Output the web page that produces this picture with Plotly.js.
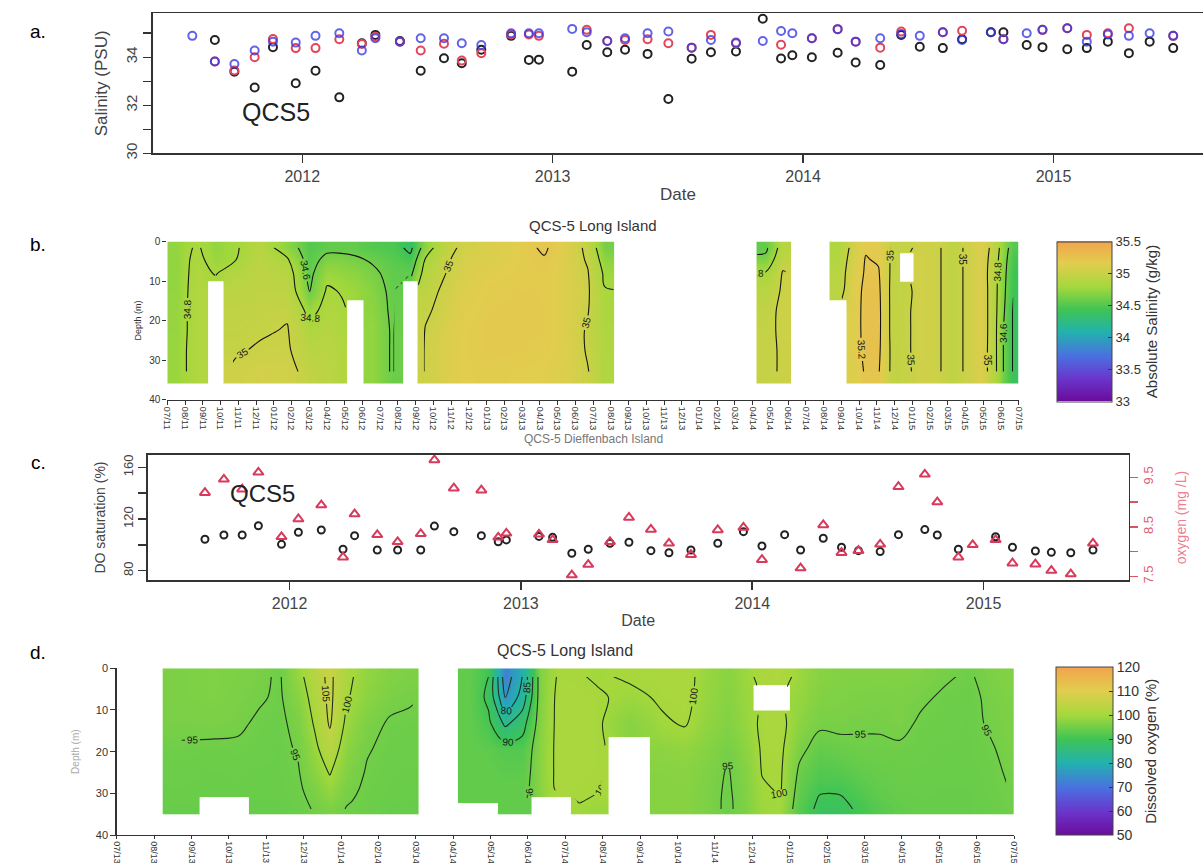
<!DOCTYPE html>
<html><head><meta charset="utf-8">
<script src="https://cdn.plot.ly/plotly-3.0.1.min.js"></script>
<style>html,body{margin:0;padding:0;background:#fff}#chart{width:1203px;height:863px}</style>
</head><body><div id="chart"></div>
<script>
// ---------- Panel a : salinity at QCS5 (decimal years) ----------
const salDates = [2011.561,2011.651,2011.729,2011.81,2011.883,2011.974,2012.053,2012.148,2012.238,2012.292,2012.39,2012.473,2012.566,2012.637,2012.715,2012.834,2012.905,2012.945,2013.078,2013.136,2013.218,2013.289,2013.379,2013.462,2013.555,2013.632,2013.732,2013.839,2013.912,2013.957,2014.035,2014.138,2014.21,2014.308,2014.392,2014.466,2014.558,2014.635,2014.75,2014.8,2014.893,2014.956,2015.055,2015.133,2015.217,2015.301,2015.384,2015.478];
const salBlack = [null,34.72,33.40,32.74,34.42,32.92,33.44,32.33,34.58,34.93,34.68,33.44,33.96,33.75,34.31,34.89,33.89,33.90,33.40,34.51,34.21,34.31,34.14,32.26,33.94,34.21,34.24,35.60,33.95,34.08,34.00,34.19,33.78,33.68,34.93,34.44,34.38,34.75,35.04,35.04,34.51,34.42,34.33,34.38,34.65,34.17,34.65,34.38];
const salRed = [null,33.82,33.45,34.00,34.76,34.38,34.38,34.75,34.55,34.85,34.65,34.28,34.56,33.86,34.17,34.95,34.95,34.89,null,35.14,34.68,34.72,34.75,34.58,34.40,34.93,34.58,null,34.52,null,34.79,35.17,34.65,34.40,35.07,null,35.04,35.10,null,34.75,null,35.14,35.21,34.93,35.00,35.21,null,34.89];
const salBlue = [34.89,33.82,33.72,34.28,34.65,34.61,34.89,35.00,34.28,34.79,34.65,34.79,34.79,34.58,34.51,35.00,35.00,35.00,35.18,35.04,34.68,34.79,35.00,35.07,34.40,34.72,34.61,34.68,35.09,35.00,34.79,35.17,34.65,34.79,34.97,34.89,35.04,34.72,35.04,34.75,35.00,35.14,35.21,34.65,34.95,34.89,35.00,34.89];
const yearTicks = [2012,2013,2014,2015];

// ---------- Panel c : DO saturation and oxygen ----------
const doDates = [2011.634,2011.716,2011.795,2011.865,2011.965,2012.038,2012.137,2012.231,2012.281,2012.379,2012.467,2012.567,2012.626,2012.71,2012.829,2012.902,2012.937,2013.078,2013.137,2013.22,2013.291,2013.385,2013.467,2013.562,2013.64,2013.735,2013.851,2013.962,2014.042,2014.14,2014.209,2014.307,2014.386,2014.459,2014.553,2014.632,2014.746,2014.8,2014.891,2014.953,2015.052,2015.125,2015.224,2015.293,2015.377,2015.473];
const doSat = [104.3,107.6,107.6,114.8,100.4,109.7,111.5,96.6,107.1,96.0,96.0,96.0,114.5,110.2,107.1,102.4,103.8,106.5,105.8,93.5,96.6,101.2,102.0,95.5,93.9,96.0,101.2,110.2,99.1,107.9,96.0,105.1,98.1,95.5,94.8,107.9,111.8,107.6,96.6,null,106.3,98.1,95.2,94.2,93.9,96.0];
const doMgL = [9.19,9.46,9.26,9.60,8.30,8.66,8.94,7.89,8.76,8.34,8.20,8.36,9.85,9.28,9.24,8.29,8.37,8.35,8.24,7.53,7.74,8.20,8.69,8.45,8.17,7.94,8.44,8.49,7.84,null,7.67,8.54,7.98,8.02,8.15,9.31,9.56,9.00,7.89,8.14,8.24,7.77,7.75,7.62,7.55,8.17];

// ---------- Panel b : absolute salinity section (month index 0 = 07/11) ----------
const salMonthLabels = ['07/11','08/11','09/11','10/11','11/11','12/11','01/12','02/12','03/12','04/12','05/12','06/12','07/12','08/12','09/12','10/12','11/12','12/12','01/13','02/13','03/13','04/13','05/13','06/13','07/13','08/13','09/13','10/13','11/13','12/13','01/14','02/14','03/14','04/14','05/14','06/14','07/14','08/14','09/14','10/14','11/14','12/14','01/15','02/15','03/15','04/15','05/15','06/15','07/15'];
const salEdgesX = [0,1,2.32,3.13,4.5,6,7.5,8.5,9.5,10.17,11.07,12.1,13.28,14.1,15,16,17.5,19,20.5,22,23.2,24.2,25.2,33.2,34.2,35.2,37.3,38.3,39.0,39.75,40.4,41.3,42.06,42.9,43.9,44.6,45.5,46.2,46.9,47.4,48.0];
const salDepthEdges = [0,3,6,10,15,20,25,30,36];
const N8 = [null,null,null,null,null,null,null,null];
const salGrid = [
 [34.72,34.72,34.72,34.72,34.73,34.73,34.74,34.74],
 [34.82,34.84,34.85,34.86,34.86,34.86,34.86,34.86],
 [34.72,34.74,34.79,null,null,null,null,null],
 [34.78,34.79,34.88,34.92,34.94,34.96,34.98,35.03],
 [34.9,34.92,34.93,34.94,34.96,34.98,35.02,35.06],
 [34.7,34.82,34.9,34.94,34.98,35.01,35.02,35.05],
 [34.5,34.52,34.55,34.58,34.75,34.85,34.9,34.95],
 [34.55,34.65,34.75,34.82,34.85,34.88,34.9,34.92],
 [34.55,34.65,34.72,34.79,34.82,34.84,34.86,34.86],
 [34.55,34.62,34.7,34.75,null,null,null,null],
 [34.5,34.58,34.63,34.68,34.7,34.72,34.72,34.72],
 [34.48,34.52,34.55,34.56,34.57,34.58,34.58,34.58],
 [34.35,34.45,34.55,null,null,null,null,null],
 [34.7,34.81,34.88,34.93,34.97,35.01,35.02,35.02],
 [34.9,34.95,34.98,35.02,35.05,35.08,35.1,35.1],
 [35.05,35.08,35.1,35.12,35.14,35.15,35.15,35.15],
 [35.1,35.12,35.14,35.16,35.17,35.18,35.18,35.16],
 [35.15,35.15,35.16,35.17,35.18,35.18,35.17,35.15],
 [35.22,35.19,35.17,35.17,35.17,35.17,35.16,35.14],
 [35.1,35.1,35.1,35.1,35.1,35.1,35.12,35.1],
 [34.96,34.98,35.01,35.02,35.01,34.98,34.98,35.01],
 [34.62,34.7,34.76,34.81,34.82,34.84,34.85,34.85],
 N8,
 [34.55,34.65,34.81,34.9,34.95,34.97,34.98,34.98],
 [34.9,34.95,35.01,35.02,35.03,35.02,35.01,35.01],
 N8,
 [34.85,34.87,34.9,34.92,null,null,null,null],
 [35.05,35.08,35.1,35.12,35.12,35.12,35.12,35.1],
 [35.18,35.21,35.22,35.24,35.25,35.25,35.24,35.22],
 [35.15,35.18,35.22,35.24,35.25,35.25,35.24,35.22],
 [34.98,34.97,34.96,34.95,34.95,34.95,34.96,34.96],
 [34.97,null,null,34.97,34.98,34.98,34.98,34.98],
 [35.04,35.05,35.05,35.05,35.05,35.05,35.05,35.04],
 [35.02,35.02,35.02,35.02,35.02,35.02,35.02,35.02],
 [34.94,34.94,34.94,34.94,34.94,34.94,34.94,34.94],
 [35.02,35.02,35.02,35.02,35.02,35.02,35.02,35.02],
 [35.12,35.12,35.12,35.13,35.13,35.13,35.12,35.12],
 [34.95,34.92,34.9,34.9,34.9,34.9,34.9,34.9],
 [34.7,34.68,34.66,34.64,34.62,34.59,34.59,34.59],
 [34.5,34.45,34.42,34.41,34.38,34.38,34.38,34.38]
];

// ---------- Panel d : dissolved oxygen section (month index 0 = 07/13) ----------
const doMonthLabels = ['07/13','08/13','09/13','10/13','11/13','12/13','01/14','02/14','03/14','04/14','05/14','06/14','07/14','08/14','09/14','10/14','11/14','12/14','01/15','02/15','03/15','04/15','05/15','06/15','07/15'];
const doEdgesX = [1.23,2.23,3.0,3.52,4.1,4.6,5.1,5.5,5.9,6.4,7.0,7.6,8.09,9.12,9.7,10.19,10.6,11.09,11.5,12.14,12.6,13.15,14.26,14.9,15.5,16.1,16.6,17.03,17.5,18.01,18.5,19.1,19.6,20.1,20.7,21.2,21.8,22.45,23.1,23.6,24];
const doDepthEdges = [0,4,10,16.5,22,27,31,32.5,35];
const doGrid = [
 [96.0,96.0,95.6,94.7,94.3,94.2,94.1,94.0],
 [96.2,96.2,95.8,94.5,94.2,94.1,null,null],
 [96.0,95.8,95.4,94.6,94.3,94.2,null,null],
 [95.6,95.3,94.6,94.3,94.2,94.1,94.0,94.0],
 [94.6,94.6,94.3,94.2,94.2,94.1,94.0,94.0],
 [98.5,97.0,96.0,95.3,94.8,94.6,94.4,94.3],
 [103,102,100.5,99,97.5,96.0,95.5,95.2],
 [106,106,105.5,103,100.5,98.5,97.0,96.0],
 [101,100.4,99.0,97.5,96.5,95.6,95.2,94.9],
 [98.0,97.5,96.0,95.2,94.8,94.6,94.5,94.5],
 [96.5,95.8,94.7,94.4,94.3,94.2,94.1,94.0],
 [96.0,95.3,94.5,94.3,94.2,94.1,94.0,94.0],
 N8,
 [93.5,93.5,93.5,93.5,93.5,93.5,93.5,null],
 [90,89,91,93,93.5,93.5,93.5,null],
 [72,75,84,92,93,93.5,93.5,93.5],
 [80,82,88,92,93,93.5,93.5,93.5],
 [96,96,96.5,97,97,97,null,null],
 [100.5,101,101,101,101,100.8,null,null],
 [100.3,101,101,101,101,100.5,100.2,99.5],
 [99.5,100.5,100.5,100.5,100.5,100.2,99.5,99],
 [100.5,99,97,null,null,null,null,null],
 [101,100.5,99.5,97.5,97,96.8,96.8,96.8],
 [101.2,101,100.3,98,97.2,97,97,97],
 [98.5,98.3,97.8,96.8,96.2,96,96,96],
 [97.2,97,96.5,95.5,94.8,94.6,94.5,94.5],
 [99,98.8,98.5,97.5,96.8,96.5,96.3,96.2],
 [101,null,100.6,100.4,100.2,99.6,99.4,99.2],
 [101.5,null,101.2,100.8,100.5,100.3,99.8,99.6],
 [99,98.5,97.5,96,94.5,93.5,93,92.5],
 [97,96.5,95.6,93.5,92,90.5,89.5,89],
 [96.5,96.2,95.6,94.2,92.5,90.5,89.5,89],
 [96.5,96,95.3,94.6,93.5,92,91,90.5],
 [96.5,95.8,95.3,94.6,94,93.5,93,92.5],
 [96.5,96,95.8,94.6,94.2,94,93.8,93.5],
 [96.2,95.5,94.6,94.3,94.2,94.1,94,94],
 [95.4,94.6,94.3,94.2,94.1,94,94,94],
 [94.6,94.3,94.2,94.2,94.1,94,94,94],
 [96,95.5,95.3,94.7,94.4,94.3,94.2,94.2],
 [96.5,96.1,95.8,95.6,95.2,94.9,94.8,94.7]
];

// ---------- helpers ----------
const W = 1203, H = 863;
const fx = v => v / W;
const fy = v => 1 - v / H;
const F = 'Liberation Sans, Arial, sans-serif';
const rows = cols => cols[0].map((_, j) => cols.map(c => c[j]));
const mids = e => e.slice(0, -1).map((v, i) => (v + e[i + 1]) / 2);
const maskOf = z => z.map(r => r.map(v => (v === null ? 1 : null)));
const copy2 = z => z.map(r => r.slice());
const idx = n => Array.from({length: n}, (_, i) => i);

const cscale = [[0,'#6b0c9c'],[0.14,'#6a36cc'],[0.28,'#4a70e0'],[0.43,'#22b2ae'],[0.57,'#3ec455'],[0.71,'#a3d83c'],[0.86,'#e2cd4e'],[1,'#f2a34c']];
const white = [[0,'#ffffff'],[1,'#ffffff']];

function section(edgesX, edgesY, cols, xa, ya, zmin, zmax, cb, lv, lineColor) {
  const z = rows(cols);
  return [
    {type:'heatmap', x: edgesX, y: edgesY, z: z, zsmooth:'best', colorscale: cscale, zmin: zmin, zmax: zmax,
     xaxis: xa, yaxis: ya, hoverinfo:'skip', colorbar: cb},
    {type:'contour', x: mids(edgesX), y: mids(edgesY), z: copy2(z), autocontour:false,
     contours:{coloring:'none', start: lv[0], end: lv[1], size: lv[2], showlabels:true,
               labelfont:{family:F, size:10, color:'#1a1a1a'}},
     line:{color: lineColor, width:1.1, smoothing:1}, showscale:false, xaxis: xa, yaxis: ya, hoverinfo:'skip'},
    {type:'heatmap', x: edgesX, y: edgesY, z: maskOf(z), zsmooth:false, colorscale: white, showscale:false,
     xaxis: xa, yaxis: ya, hoverinfo:'skip'}
  ];
}

const cbCommon = {xanchor:'left', yanchor:'top', lenmode:'pixels', thicknessmode:'pixels', xpad:0, ypad:0,
  outlinewidth:1, outlinecolor:'#444', ticks:'inside', ticklen:4, tickcolor:'#333'};

const traces = [].concat(
  section(salEdgesX, salDepthEdges, salGrid, 'x2', 'y2', 33, 35.5,
    Object.assign({}, cbCommon, {x: fx(1057), y: fy(241.5), len:160, thickness:55,
      tickvals:[33,33.5,34,34.5,35,35.5], tickfont:{family:F, size:13, color:'#333'},
      title:{text:'Absolute Salinity (g/kg)', side:'right', font:{family:F, size:15, color:'#333'}}}),
    [34.4, 35.2, 0.2], '#151515'),
  section(doEdgesX, doDepthEdges, doGrid, 'x4', 'y5', 50, 120,
    Object.assign({}, cbCommon, {x: fx(1056), y: fy(667.3), len:167.7, thickness:57,
      tickvals:[50,60,70,80,90,100,110,120], tickfont:{family:F, size:14, color:'#333'},
      title:{text:'Dissolved oxygen (%)', side:'right', font:{family:F, size:15, color:'#333'}}}),
    [70, 105, 5], '#1d321d'),
  [
    {type:'scatter', mode:'markers', x: salDates, y: salBlack, xaxis:'x', yaxis:'y', name:'black',
     marker:{symbol:'circle-open', size:8, color:'#222222', line:{width:2}}},
    {type:'scatter', mode:'markers', x: salDates, y: salRed, xaxis:'x', yaxis:'y', name:'red',
     marker:{symbol:'circle-open', size:8, color:'#e2465a', line:{width:2}}},
    {type:'scatter', mode:'markers', x: salDates, y: salBlue, xaxis:'x', yaxis:'y', name:'blue',
     marker:{symbol:'circle-open', size:8, color:'rgba(55,55,225,0.78)', line:{width:2}}},
    {type:'scatter', mode:'markers', x: doDates, y: doSat, xaxis:'x3', yaxis:'y3', name:'DO %',
     marker:{symbol:'circle-open', size:7, color:'#222222', line:{width:2}}},
    {type:'scatter', mode:'markers', x: doDates, y: doMgL, xaxis:'x3', yaxis:'y4', name:'O2 mg/L',
     marker:{symbol:'triangle-up-open', size:9, color:'#d83a5c', line:{width:2}}}
  ]
);

const base = {showgrid:false, zeroline:false, linecolor:'#333', tickcolor:'#333', fixedrange:true};

function note(text, x, y, size, color) {
  return {text: text, x: fx(x), y: fy(y), xref:'paper', yref:'paper', xanchor:'center', yanchor:'middle',
          showarrow:false, font:{family:F, size: size, color: color}};
}

const layout = {
  width: W, height: H, margin:{l:0, r:0, t:0, b:0}, showlegend:false,
  paper_bgcolor:'#ffffff', plot_bgcolor:'rgba(0,0,0,0)',
  font:{family:F, color:'#333'},
  // panel a
  xaxis: Object.assign({}, base, {domain:[fx(153), 1], range:[2011.404, 2015.597], anchor:'y',
    tickvals: yearTicks, ticks:'outside', ticklen:8, tickwidth:1.5, showline:true, linewidth:1.8, mirror:true,
    tickfont:{family:F, size:16, color:'#444'}, title:{text:'Date', font:{family:F, size:17, color:'#444'}, standoff:4}}),
  yaxis: Object.assign({}, base, {domain:[fy(153.3), fy(13.3)], range:[30, 35.83], anchor:'x',
    tickvals:[30,31,32,33,34,35], ticktext:['30','','32','','34',''], tickangle:-90,
    ticks:'outside', ticklen:8, tickwidth:1.5, showline:true, linewidth:1.8, mirror:true,
    tickfont:{family:F, size:15, color:'#444'}, title:{text:'Salinity (PSU)', font:{family:F, size:17, color:'#444'}, standoff:11}}),
  // panel b
  xaxis2: Object.assign({}, base, {domain:[fx(167.3), fx(1018.8)], range:[0, 48], anchor:'y2',
    tickvals: idx(salMonthLabels.length), ticktext: salMonthLabels, tickangle:90, ticks:'outside', ticklen:4,
    showline:true, linewidth:1.2, tickfont:{family:F, size:9.5, color:'#333'}}),
  yaxis2: Object.assign({}, base, {domain:[fy(399.5), fy(241.5)], range:[40, 0], anchor:'x2',
    tickvals:[0,10,20,30,40], ticks:'outside', ticklen:4, showline:false,
    tickfont:{family:F, size:10, color:'#333'}, title:{text:'Depth (m)', font:{family:F, size:9, color:'#333'}, standoff:6}}),
  // panel c
  xaxis3: Object.assign({}, base, {domain:[fx(147.8), fx(1128.6)], range:[2011.387, 2015.627], anchor:'y3',
    tickvals: yearTicks, ticks:'outside', ticklen:8, tickwidth:1.5, showline:true, linewidth:1.8, mirror:true,
    tickfont:{family:F, size:16, color:'#444'}, title:{text:'Date', font:{family:F, size:16, color:'#444'}, standoff:4}}),
  yaxis3: Object.assign({}, base, {domain:[fy(580), fy(455)], range:[72.8, 169.5], anchor:'x3',
    tickvals:[80,100,120,140,160], ticktext:['80','','120','','160'], tickangle:-90,
    ticks:'outside', ticklen:8, tickwidth:1.5, showline:true, linewidth:1.8, mirror:true,
    tickfont:{family:F, size:13, color:'#444'}, title:{text:'DO saturation (%)', font:{family:F, size:14, color:'#444'}, standoff:12}}),
  yaxis4: Object.assign({}, base, {overlaying:'y3', side:'right', anchor:'x3', range:[7.43, 9.95],
    tickvals:[7.5,8,8.5,9,9.5], ticktext:['7.5','','8.5','','9.5'], tickangle:-90,
    ticks:'outside', ticklen:8, tickwidth:1.5, tickcolor:'#d9536b', showline:false,
    tickfont:{family:F, size:13, color:'#e0607a'}, title:{text:'oxygen (mg /L)', font:{family:F, size:14, color:'#ec7f92'}, standoff:20}}),
  // panel d
  xaxis4: Object.assign({}, base, {domain:[fx(116.7), fx(1014)], range:[0, 24], anchor:'y5',
    tickvals: idx(doMonthLabels.length), ticktext: doMonthLabels, tickangle:90, ticks:'outside', ticklen:3,
    showline:true, linewidth:1.4, tickfont:{family:F, size:9, color:'#333'}}),
  yaxis5: Object.assign({}, base, {domain:[fy(835), fy(668.3)], range:[40, 0], anchor:'x4',
    tickvals:[0,10,20,30,40], ticks:'outside', ticklen:5, showline:true, linewidth:1.4,
    tickfont:{family:F, size:11, color:'#333'}, title:{text:'Depth (m)', font:{family:F, size:10, color:'#aaa'}, standoff:14}}),
  annotations: [
    note('a.', 38, 32, 19, '#000'),
    note('b.', 38, 245, 19, '#000'),
    note('c.', 38, 462, 19, '#000'),
    note('d.', 38, 652, 19, '#000'),
    note('QCS5', 276, 112.5, 25, '#222'),
    note('QCS5', 262, 494, 24, '#222'),
    note('QCS-5 Long Island', 593, 225, 15, '#333'),
    note('QCS-5 Long Island', 565, 650.5, 16, '#333'),
    note('QCS-5 Dieffenbach Island', 593, 439, 12, '#777')
  ]
};

Plotly.newPlot('chart', traces, layout, {staticPlot:true, displayModeBar:false});
</script>
</body></html>
